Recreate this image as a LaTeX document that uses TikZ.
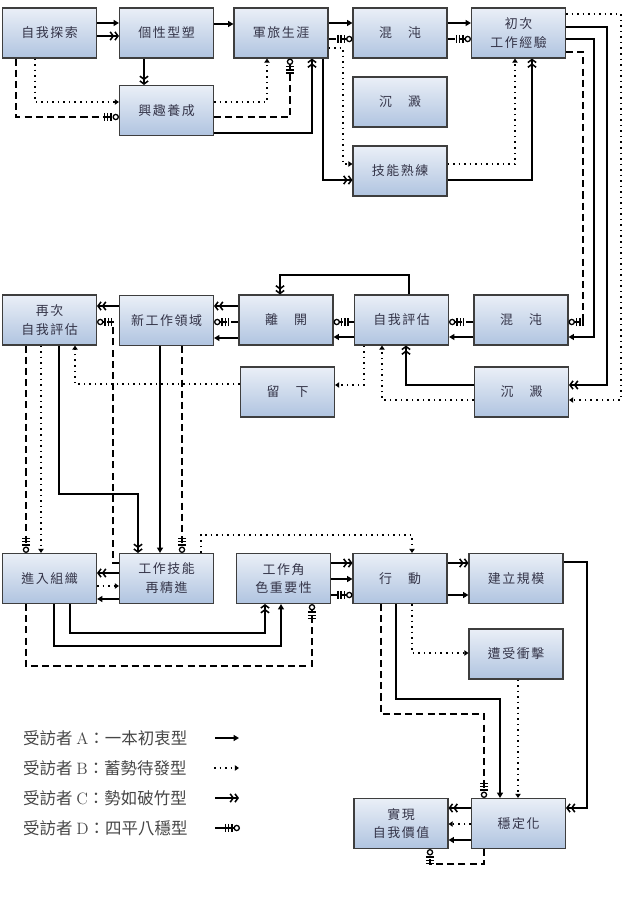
\documentclass[tikz,border=0pt]{standalone}
\usepackage{fontspec}
\newfontfamily\cjk[LetterSpace=12]{Noto Sans CJK TC}
\newfontfamily\cjklegend{Noto Sans CJK TC}
\usepackage{tikz}
\usetikzlibrary{arrows.meta}
\usetikzlibrary{calc}
\definecolor{boxtop}{RGB}{234,239,247}
\definecolor{boxbot}{RGB}{176,196,224}
\definecolor{boxline}{RGB}{62,62,62}
\definecolor{boxtext}{RGB}{52,52,72}
\definecolor{legtext}{RGB}{70,70,70}
\tikzset{stage/.style={rectangle,draw=boxline,line width=0.9pt,top color=boxtop,bottom color=boxbot,
minimum width=79.9pt,minimum height=42.5pt,inner sep=1pt,align=center,text=boxtext,
font=\cjk\fontsize{11}{16}\selectfont},
legend/.style={anchor=west,inner sep=0pt,text=legtext,font=\cjklegend\fontsize{14}{16}\selectfont},
link/.style={line width=1.3pt,black},
typeA/.style={link,-{Triangle[length=4.5pt,width=5pt]}},
typeB/.style={link,dash pattern=on 1.3pt off 3.4pt,-{Triangle[length=3.5pt,width=4.5pt]}},
typeC/.style={link,-{Straight Barb[length=2.6pt,width=7pt]Straight Barb[length=2.6pt,width=7pt]}},
typeD/.style={link,dash pattern=on 6pt off 3.5pt,
 -{Bar[width=7pt,sep=1.4pt]Bar[width=7pt,sep=1.4pt]Bar[width=7pt,sep=0.8pt]Circle[open,length=5.5pt,width=5.5pt,line width=1.1pt]}}}
\begin{document}
\begin{tikzpicture}[x=0.85pt,y=-0.85pt]
  \useasboundingbox (0,0) rectangle (628,898);
  \node (explore)  [stage] at (49.5,33)   {自我探索};
  \node (shape)    [stage] at (166.5,33)  {個性型塑};
  \node (army)     [stage] at (281,33)    {軍旅生涯};
  \node (chaosA)   [stage] at (400,33)    {混　沌};
  \node (firstjob) [stage] at (518.5,33)  {初次\\工作經驗};
  \node (interest) [stage] at (166.5,110.5) {興趣養成};
  \node (settleA)  [stage] at (400,102)   {沉　澱};
  \node (skill)    [stage] at (400,171)   {技能熟練};
  \node (reeval)   [stage] at (49.5,320)  {再次\\自我評估};
  \node (newfield) [stage] at (166.5,320.5) {新工作領域};
  \node (leave)    [stage] at (286,320)   {離　開};
  \node (selfeval) [stage] at (401.5,320) {自我評估};
  \node (chaosB)   [stage] at (521,320)   {混　沌};
  \node (stay)     [stage] at (287.5,392) {留　下};
  \node (settleB)  [stage] at (521.5,392) {沉　澱};
  \node (join)     [stage] at (49.5,578.5)  {進入組織};
  \node (refine)   [stage] at (166.5,578.5) {工作技能\\再精進};
  \node (role)     [stage] at (283.5,578.5) {工作角\\色重要性};
  \node (act)      [stage] at (400,578.5)   {行　動};
  \node (scale)    [stage] at (516,578.5)   {建立規模};
  \node (shock)    [stage] at (516,654)     {遭受衝擊};
  \node (realize)  [stage] at (401,823.5)   {實現\\自我價值};
  \node (stable)   [stage] at (518.5,823.5) {穩定化};

  \draw [typeA] (explore.east |- 0,23) -- (shape.west |- 0,23);
  \draw [typeC] (explore.east |- 0,36) -- (shape.west |- 0,36);
  \draw [typeB] (explore.south -| 35,0) |- (interest.west |- 0,102);
  \draw [typeD] (explore.south -| 16,0) |- (interest.west |- 0,117);
  \draw [typeC] (shape.south -| 144,0) -- (interest.north -| 144,0);
  \draw [typeA] (shape.east |- 0,24) -- (army.west |- 0,24);
  \draw [typeB] (interest.east |- 0,102) -| (army.south -| 267,0);
  \draw [typeD] (interest.east |- 0,117) -| (army.south -| 290,0);
  \draw [typeC] (interest.east |- 0,133) -| (army.south -| 312,0);
  \draw [typeA] (army.east |- 0,23) -- (chaosA.west |- 0,23);
  \draw [typeD] (army.east |- 0,39) -- (chaosA.west |- 0,39);
  \draw [typeC] (army.south -| 323,0) |- (skill.west |- 0,180);
  \draw [typeB] (army.east |- 0,48) -- (343,48) |- (skill.west |- 0,164);
  \draw [typeA] (chaosA.east |- 0,23) -- (firstjob.west |- 0,23);
  \draw [typeD] (chaosA.east |- 0,39) -- (firstjob.west |- 0,39);
  \draw [typeB] (skill.east |- 0,164) -| (firstjob.south -| 515,0);
  \draw [typeC] (skill.east |- 0,180) -| (firstjob.south -| 532,0);
  \draw [typeB] (firstjob.east |- 0,14) -| (621,200) |- (settleB.east |- 0,400);
  \draw [typeC] (firstjob.east |- 0,27) -| (607,200) |- (settleB.east |- 0,385);
  \draw [typeA] (firstjob.east |- 0,39) -| (594,200) |- (chaosB.east |- 0,337);
  \draw [typeD] (firstjob.east |- 0,52) -| (583,200) |- (chaosB.east |- 0,322);

  \draw [typeD] (chaosB.west |- 0,322) -- (selfeval.east |- 0,322);
  \draw [typeA] (chaosB.west |- 0,337) -- (selfeval.east |- 0,337);
  \draw [typeC] (settleB.west |- 0,385) -| (selfeval.south -| 406,0);
  \draw [typeB] (settleB.west |- 0,400) -| (selfeval.south -| 382,0);
  \draw [typeD] (selfeval.west |- 0,322) -- (leave.east |- 0,322);
  \draw [typeA] (selfeval.west |- 0,337) -- (leave.east |- 0,337);
  \draw [typeB] (selfeval.south -| 364,0) |- (stay.east |- 0,385);
  \draw [typeC] (selfeval.north -| 409,0) |- (280,275) -- (leave.north -| 280,0);
  \draw [typeC] (leave.west |- 0,306) -- (newfield.east |- 0,306);
  \draw [typeD] (leave.west |- 0,322) -- (newfield.east |- 0,322);
  \draw [typeA] (leave.west |- 0,338) -- (newfield.east |- 0,338);
  \draw [typeC] (newfield.west |- 0,306) -- (reeval.east |- 0,306);
  \draw [typeD] (refine.west |- 0,563) -| (113,400) |- (reeval.east |- 0,322);
  \draw [typeB] (stay.west |- 0,384) -| (reeval.south -| 75,0);
  \draw [typeD] (reeval.south -| 26,0) -- (join.north -| 26,0);
  \draw [typeB] (reeval.south -| 41,0) -- (join.north -| 41,0);
  \draw [typeC] (reeval.south -| 59,0) |- (138,494) -- (refine.north -| 138,0);
  \draw [typeA] (newfield.south -| 160,0) -- (refine.north -| 160,0);
  \draw [typeD] (newfield.south -| 182,0) -- (refine.north -| 182,0);

  \draw [typeC] (refine.west |- 0,573) -- (join.east |- 0,573);
  \draw [typeB] (join.east |- 0,586) -- (refine.west |- 0,586);
  \draw [typeA] (refine.west |- 0,599) -- (join.east |- 0,599);
  \draw [typeB] (refine.north -| 201,0) |- (412,535) -- (act.north -| 412,0);
  \draw [typeC] (join.south -| 70,0) |- (265,633) -- (role.south -| 265,0);
  \draw [typeA] (join.south -| 54,0) |- (281,646) -- (role.south -| 281,0);
  \draw [typeD] (join.south -| 26,0) |- (312,666) -- (role.south -| 312,0);
  \draw [typeC] (role.east |- 0,563) -- (act.west |- 0,563);
  \draw [typeA] (role.east |- 0,579) -- (act.west |- 0,579);
  \draw [typeD] (role.east |- 0,595) -- (act.west |- 0,595);
  \draw [typeC] (act.east |- 0,563) -- (scale.west |- 0,563);
  \draw [typeA] (act.east |- 0,595) -- (scale.west |- 0,595);
  \draw [typeB] (act.south -| 412,0) |- (shock.west |- 0,653);
  \draw [typeD] (act.south -| 381,0) |- (484,714) -- (stable.north -| 484,0);
  \draw [typeA] (act.south -| 396,0) |- (500,699) -- (stable.north -| 500,0);
  \draw [typeB] (shock.south -| 518,0) -- (stable.north -| 518,0);
  \draw [typeC] (scale.east |- 0,562) -| (587,700) |- (stable.east |- 0,808);
  \draw [typeC] (stable.west |- 0,808) -- (realize.east |- 0,808);
  \draw [typeB] (stable.west |- 0,824) -- (realize.east |- 0,824);
  \draw [typeA] (stable.west |- 0,840) -- (realize.east |- 0,840);
  \draw [typeD] (stable.south -| 484,0) |- (430,864) -- (realize.south -| 430,0);

  \node (legA) [legend] at (23,738) {受訪者 {\rmfamily A}：一本初衷型};
  \node (legB) [legend] at (23,768) {受訪者 {\rmfamily B}：蓄勢待發型};
  \node (legC) [legend] at (23,798) {受訪者 {\rmfamily C}：勢如破竹型};
  \node (legD) [legend] at (23,828) {受訪者 {\rmfamily D}：四平八穩型};
  \coordinate (aS) at (215,738); \coordinate (aE) at (239,738);
  \coordinate (bS) at (214,768); \coordinate (bE) at (239,768);
  \coordinate (cS) at (215,798); \coordinate (cE) at (239,798);
  \coordinate (dS) at (215,828); \coordinate (dE) at (240,828);
  \draw [typeA] (aS) -- (aE);
  \draw [typeB] (bS) -- (bE);
  \draw [typeC] (cS) -- (cE);
  \draw [typeD,solid] (dS) -- (dE);
\end{tikzpicture}
\end{document}
